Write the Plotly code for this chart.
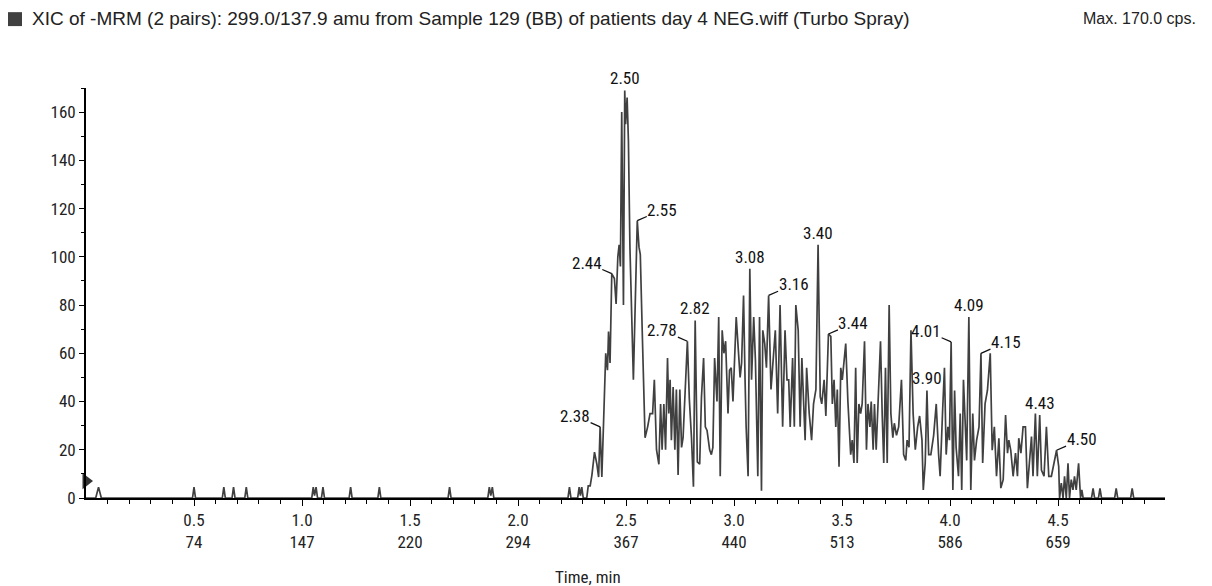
import numpy as np
import plotly.graph_objects as go

# ---------------- data ----------------
time_min = [
    0.000, 0.045, 0.058, 0.071, 0.493, 0.500, 0.507, 0.631, 0.638, 0.645,
    0.676, 0.683, 0.690, 0.735, 0.742, 0.749, 1.045, 1.052, 1.058, 1.065, 1.072,
    1.090, 1.097, 1.104, 1.218, 1.225, 1.232, 1.351, 1.358, 1.365,
    1.676, 1.683, 1.690, 1.860, 1.867, 1.874, 1.881, 1.888,
    2.231, 2.238, 2.245, 2.276, 2.283, 2.289, 2.295, 2.302,
    2.318, 2.325, 2.334, 2.342, 2.354, 2.365, 2.373, 2.380, 2.388, 2.400,
    2.406, 2.414, 2.419, 2.426, 2.434, 2.446, 2.454, 2.462, 2.468, 2.474,
    2.480, 2.488, 2.494, 2.498, 2.505, 2.511, 2.518, 2.534, 2.541, 2.552,
    2.560, 2.566, 2.575, 2.588, 2.600, 2.611, 2.623, 2.631, 2.641, 2.652,
    2.660, 2.667, 2.675, 2.683, 2.692, 2.698, 2.704, 2.710, 2.718, 2.726,
    2.733, 2.741, 2.749, 2.757, 2.764, 2.775, 2.784, 2.793, 2.803, 2.812,
    2.820, 2.830, 2.841, 2.849, 2.859, 2.867, 2.875, 2.887, 2.895, 2.902,
    2.910, 2.921, 2.929, 2.936, 2.945, 2.953, 2.961, 2.972, 2.979, 2.987,
    2.995, 3.010, 3.018, 3.028, 3.035, 3.044, 3.051, 3.056, 3.065, 3.073,
    3.081, 3.091, 3.099, 3.110, 3.118, 3.127, 3.133, 3.142, 3.150, 3.160,
    3.171, 3.182, 3.191, 3.202, 3.213, 3.225, 3.236, 3.245, 3.253, 3.260,
    3.271, 3.279, 3.286, 3.297, 3.306, 3.314, 3.322, 3.329, 3.336, 3.348,
    3.359, 3.368, 3.379, 3.389, 3.399, 3.406, 3.417, 3.425, 3.437, 3.448,
    3.455, 3.463, 3.471, 3.478, 3.486, 3.494, 3.501, 3.517, 3.527, 3.540,
    3.547, 3.555, 3.563, 3.570, 3.578, 3.586, 3.593, 3.604, 3.613, 3.620,
    3.629, 3.635, 3.644, 3.650, 3.658, 3.667, 3.678, 3.686, 3.693, 3.701,
    3.709, 3.718, 3.726, 3.735, 3.742, 3.752, 3.762, 3.775, 3.785, 3.795,
    3.801, 3.810, 3.819, 3.829, 3.839, 3.850, 3.859, 3.870, 3.876, 3.885,
    3.893, 3.901, 3.911, 3.924, 3.936, 3.947, 3.954, 3.965, 3.974, 3.982,
    3.990, 3.997, 4.005, 4.013, 4.021, 4.028, 4.039, 4.047, 4.054, 4.062,
    4.070, 4.077, 4.087, 4.096, 4.105, 4.113, 4.123, 4.134, 4.143, 4.151,
    4.162, 4.173, 4.186, 4.195, 4.205, 4.215, 4.226, 4.235, 4.246, 4.257,
    4.266, 4.272, 4.281, 4.292, 4.303, 4.312, 4.318, 4.328, 4.338, 4.349,
    4.358, 4.369, 4.377, 4.384, 4.395, 4.404, 4.415, 4.423, 4.435, 4.446,
    4.457, 4.469, 4.481, 4.493, 4.503, 4.507, 4.515, 4.523, 4.530, 4.538,
    4.546, 4.553, 4.561, 4.569, 4.576, 4.584, 4.595, 4.604, 4.610, 4.616,
    4.655, 4.662, 4.669, 4.687, 4.694, 4.701, 4.762, 4.769, 4.776,
    4.836, 4.843, 4.850, 4.995,
]
intensity_cps = [
    0, 0, 4.5, 0, 0, 4.5, 0, 0, 4.5, 0,
    0, 4.5, 0, 0, 4.5, 0, 0, 4.5, 1, 4.5, 0,
    0, 4.5, 0, 0, 4.5, 0, 0, 4.5, 0,
    0, 4.5, 0, 0, 4.5, 1, 4.5, 0,
    0, 4.5, 0, 0, 4.5, 1, 4.5, 0,
    0, 5, 5, 9.5, 19, 14, 8.7, 29.5, 8.7, 39,
    60, 53, 69, 56, 93, 91, 80.5, 100, 105, 96,
    160, 80, 169, 155, 166, 148, 104, 49, 76, 115,
    104, 101, 69, 25, 29.5, 35, 35, 49, 20, 14,
    39, 20, 39, 20, 58, 35, 49, 24, 46, 20,
    45, 9.5, 45, 21, 25, 46, 65, 41, 25, 4.7,
    73.6, 15, 14, 41.5, 58, 29.5, 28, 20, 18, 21,
    58, 40, 75, 9, 69.5, 60, 65, 35, 53, 54,
    40, 75, 64, 50, 56, 84, 49, 29.5, 9, 95,
    49, 75, 57, 9, 75, 3, 69.5, 64, 54, 84,
    45, 61, 69.5, 35, 80, 29.5, 69.5, 49, 49, 29.5,
    58, 29.5, 80, 69.5, 29.5, 58, 40, 24, 54, 35,
    24, 39, 45, 105, 42, 39, 49, 34, 68, 67,
    39, 49, 29.5, 45, 13, 54, 49, 64, 40, 18,
    24, 14.5, 54, 14.5, 39, 35, 39, 65, 20, 39,
    29.5, 40, 20, 39, 20, 39, 65, 34, 14.5, 54,
    14.5, 80, 35, 25, 31, 26, 29.5, 49, 18, 15.6,
    24, 21, 69.5, 35, 20, 29.5, 34, 24, 3.3, 14.5,
    44.6, 18, 18, 26, 39, 18, 9, 35, 54, 18,
    29.5, 24, 64.7, 3.3, 44.6, 21, 9, 35, 3.3, 49,
    34, 15.6, 75, 3.3, 35, 15.6, 24, 29.5, 60, 14.5,
    39, 44.6, 60, 19.8, 29.5, 9, 24.8, 4.1, 7.6, 34.4,
    18.6, 24, 19.8, 9, 18.6, 9, 24.8, 18.6, 29.5, 29.5,
    4.1, 18.6, 25.5, 9, 35, 9, 34.4, 11.6, 9, 29.5,
    9, 9, 15, 19.8, 13, 0, 6.2, 0, 9, 0,
    14.4, 0, 7.6, 3.4, 9, 3.4, 14.4, 0, 3.4, 0,
    0, 4, 0, 0, 4, 0, 0, 4, 0,
    0, 4, 0, 0,
]

peak_label_text = ["2.38", "2.44", "2.50", "2.55", "2.78", "2.82", "3.08", "3.16",
                   "3.40", "3.44", "3.90", "4.01", "4.09", "4.15", "4.43", "4.50"]
peak_label_time = [2.380, 2.434, 2.494, 2.552, 2.784, 2.820, 3.073, 3.160,
                   3.389, 3.437, 3.893, 4.005, 4.087, 4.143, 4.415, 4.493]
peak_label_side = ["left", "left", "top", "right", "left", "top", "top", "right",
                   "top", "right", "top", "left", "top", "right", "top", "right"]

x_tick_time = [0.5, 1.0, 1.5, 2.0, 2.5, 3.0, 3.5, 4.0, 4.5]
x_tick_time_text = ["0.5", "1.0", "1.5", "2.0", "2.5", "3.0", "3.5", "4.0", "4.5"]
x_tick_cycle_text = ["74", "147", "220", "294", "367", "440", "513", "586", "659"]
y_tick_vals = [0, 20, 40, 60, 80, 100, 120, 140, 160]

title_text = "XIC of -MRM (2 pairs): 299.0/137.9 amu from Sample 129 (BB) of patients day 4 NEG.wiff (Turbo Spray)"
max_text = "Max. 170.0 cps."
x_title = "Time, min"

# ---------------- styling ----------------
NARROW = "Liberation Sans Narrow, Arial Narrow, Roboto Condensed, Liberation Sans, Arial, sans-serif"
REGULAR = "Liberation Sans, Arial, sans-serif"
LINE = "#404040"

fig = go.Figure()
fig.add_trace(go.Scatter(
    x=time_min, y=intensity_cps, mode="lines",
    line=dict(color=LINE, width=1.7), showlegend=False, hoverinfo="skip",
))
# small pointer on the y axis
fig.add_trace(go.Scatter(
    x=[0.0], y=[7], mode="markers", cliponaxis=False,
    marker=dict(symbol="triangle-right", size=14, color="#333333"),
    showlegend=False, hoverinfo="skip",
))

lookup = dict(zip(time_min, intensity_cps))
annotations = []
for txt, t, side in zip(peak_label_text, peak_label_time, peak_label_side):
    v = lookup[t]
    if side == "top":
        annotations.append(dict(x=t, y=v, text=txt, showarrow=False,
                                xanchor="center", yanchor="bottom", yshift=0,
                                font=dict(family=NARROW, size=17, color="#111")))
    else:
        annotations.append(dict(x=t, y=v, text=txt, showarrow=True,
                                arrowhead=0, arrowwidth=1.3, arrowcolor="#111",
                                ax=(-25 if side == "left" else 25), ay=-11,
                                standoff=0, borderpad=0,
                                font=dict(family=NARROW, size=17, color="#111")))

annotations += [
    dict(xref="paper", yref="paper", x=-0.0519, y=1.1707, xanchor="left", yanchor="middle",
         text=title_text, showarrow=False, font=dict(family=REGULAR, size=19, color="#222")),
    dict(xref="paper", yref="paper", x=1.0306, y=1.1707, xanchor="right", yanchor="middle",
         text=max_text, showarrow=False, font=dict(family=REGULAR, size=16, color="#222")),
    dict(xref="paper", yref="paper", x=0.4652, y=-0.1927, xanchor="center", yanchor="middle",
         text=x_title, showarrow=False, font=dict(family=NARROW, size=17, color="#222")),
]

fig.update_layout(
    width=1212, height=586,
    margin=dict(l=86, r=47, t=88, b=88),
    paper_bgcolor="white", plot_bgcolor="white",
    annotations=annotations,
    shapes=[dict(type="rect", xref="paper", yref="paper",
                 x0=-0.0723, x1=-0.0593, y0=1.151, y1=1.185,
                 fillcolor="#404040", line=dict(width=0))],
)
fig.update_xaxes(
    range=[0, 4.995], showgrid=False, zeroline=False,
    showline=True, linecolor="black", linewidth=1.8,
    ticks="outside", ticklen=6, tickwidth=1.3, tickcolor="black",
    tickvals=x_tick_time,
    ticktext=[f"{a}<br>{b}" for a, b in zip(x_tick_time_text, x_tick_cycle_text)],
    tickfont=dict(family=NARROW, size=17, color="#222"),
    minor=dict(tickvals=list(np.round(np.arange(0.1, 4.95, 0.1), 2)),
               ticks="outside", ticklen=4, tickwidth=1.3, tickcolor="black", showgrid=False),
)
fig.update_yaxes(
    range=[0, 170], showgrid=False, zeroline=False,
    showline=True, linecolor="black", linewidth=1.8,
    ticks="outside", ticklen=5, tickwidth=1.3, tickcolor="black",
    tickvals=y_tick_vals,
    tickfont=dict(family=NARROW, size=17, color="#222"),
    minor=dict(tickvals=[10, 30, 50, 70, 90, 110, 130, 150, 170],
               ticks="outside", ticklen=3, tickwidth=1.3, tickcolor="black", showgrid=False),
)

fig.write_html("out.html")
